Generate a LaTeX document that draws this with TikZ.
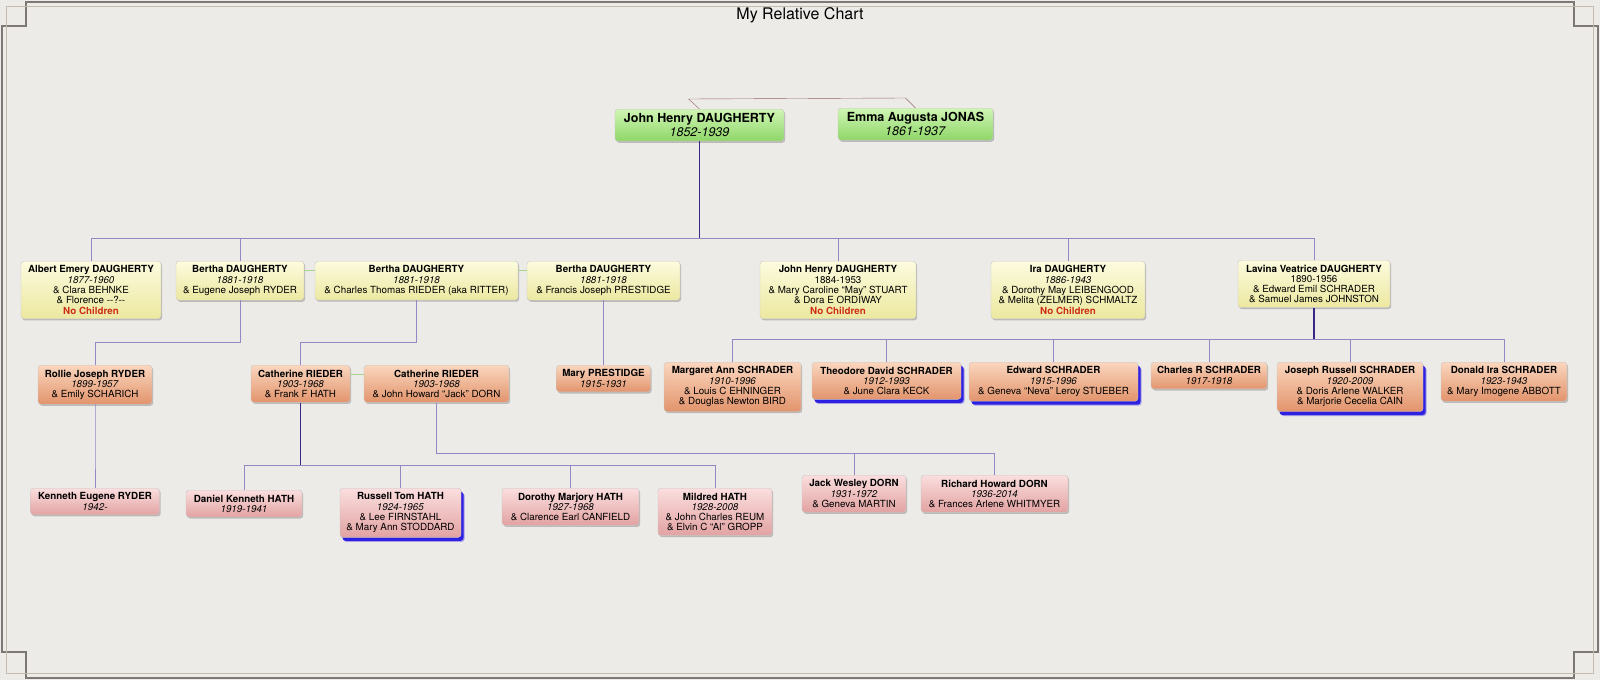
\documentclass[tikz,border=0pt]{standalone}
\usepackage{fontspec}
\setmainfont{TeX Gyre Heros}
\usepackage{xcolor}
\usepackage{tikz}
\usetikzlibrary{positioning,calc,shadows}
\definecolor{fond}{RGB}{237,235,232}
\definecolor{cadre}{RGB}{125,120,115}
\definecolor{cadreclair}{RGB}{196,188,172}
\definecolor{lien}{RGB}{150,134,196}
\definecolor{liensombre}{RGB}{58,38,132}
\definecolor{conjoint}{RGB}{145,100,100}
\definecolor{vertlien}{RGB}{165,212,140}
\definecolor{rouge}{RGB}{205,45,20}
\definecolor{bleuvif}{RGB}{35,20,225}
\definecolor{vertH}{RGB}{208,246,180}
\definecolor{vertB}{RGB}{142,214,104}
\definecolor{jauneH}{RGB}{252,251,222}
\definecolor{jauneB}{RGB}{236,232,160}
\definecolor{orangeH}{RGB}{250,214,190}
\definecolor{orangeB}{RGB}{226,148,108}
\definecolor{roseH}{RGB}{251,222,222}
\definecolor{roseB}{RGB}{226,162,162}
\newcommand{\enfants}[3]{%
  \foreach \kid in {#3}{\draw[filiation] (#1.south) -- (#1.south |- 0,#2) -| (\kid.north);}}
\newcommand{\sansenfant}{\textcolor{rouge}{\textbf{No Children}}}

\begin{document}
\begin{tikzpicture}[x=1pt,y=-1pt,
    fiche/.style={draw=black!22,rounded corners=3pt,align=center,anchor=north,
      inner xsep=2pt,inner ysep=4.5pt,font=\fontsize{9.8}{10.3}\selectfont,
      drop shadow={shadow xshift=1.2pt,shadow yshift=-1.6pt,opacity=0.3,fill=black!70}},
    aieul/.style={fiche,top color=vertH,bottom color=vertB,font=\fontsize{12.5}{13.5}\selectfont},
    enfant/.style={fiche,top color=jauneH,bottom color=jauneB},
    petit/.style={fiche,top color=orangeH,bottom color=orangeB},
    arriere/.style={fiche,top color=roseH,bottom color=roseB},
    choisi/.style={drop shadow={shadow xshift=3.5pt,shadow yshift=-4.5pt,opacity=0.35,fill=bleuvif},
      drop shadow={shadow xshift=2.5pt,shadow yshift=-3.5pt,opacity=0.9,fill=bleuvif}},
    filiation/.style={draw=lien,line width=0.95pt},
    sang/.style={draw=liensombre,line width=1.7pt},
    remariage/.style={draw=vertlien,line width=1pt}]
  \path[use as bounding box,fill=fond] (0,0) rectangle (1600,680);
  \draw[cadre,line width=1.2pt] (26,2) -- (1574,2) -- (1574,26) -- (1598,26) -- (1598,652) -- (1574,652)
    -- (1574,678) -- (26,678) -- (26,652) -- (2,652) -- (2,26) -- (26,26) -- cycle;
  \draw[cadreclair,line width=1.2pt] (6.5,6.5) rectangle (1593.5,673.5);
  \node[font=\fontsize{16}{18}\selectfont] (titre) at (800,15.5) {My Relative Chart};
  % parents
  \node[aieul,minimum width=169] (john) at (699.5,109) {\textbf{John Henry DAUGHERTY}\\\textit{1852-1939}};
  \node[aieul,minimum width=155] (emma) at (915.5,108) {\textbf{Emma Augusta JONAS}\\\textit{1861-1937}};
  % enfants
  \node[enfant,minimum width=140] (albert) at (91,261) {\textbf{Albert Emery DAUGHERTY}\\\textit{1877-1960}\\\& Clara BEHNKE\\\& Florence {-}{-}?{-}{-}\\\sansenfant};
  \node[enfant,minimum width=128] (berthaA) at (240,261) {\textbf{Bertha DAUGHERTY}\\\textit{1881-1918}\\\& Eugene Joseph RYDER};
  \node[enfant,minimum width=203] (berthaB) at (416.5,261) {\textbf{Bertha DAUGHERTY}\\\textit{1881-1918}\\\& Charles Thomas RIEDER (aka RITTER)};
  \node[enfant,minimum width=153] (berthaC) at (603.5,261) {\textbf{Bertha DAUGHERTY}\\\textit{1881-1918}\\\& Francis Joseph PRESTIDGE};
  \node[enfant,minimum width=156] (johnjr) at (838,261) {\textbf{John Henry DAUGHERTY}\\1884-1953\\\& Mary Caroline ``May'' STUART\\\& Dora E ORDIWAY\\\sansenfant};
  \node[enfant,minimum width=154] (ira) at (1068,261) {\textbf{Ira DAUGHERTY}\\\textit{1886-1943}\\\& Dorothy May LEIBENGOOD\\\& Melita (ZELMER) SCHMALTZ\\\sansenfant};
  \node[enfant,minimum width=152] (lavina) at (1314,260) {\textbf{Lavina Veatrice DAUGHERTY}\\1890-1956\\\& Edward Emil SCHRADER\\\& Samuel James JOHNSTON};
  % petits-enfants
  \node[petit,minimum width=114] (rollie) at (95,365) {\textbf{Rollie Joseph RYDER}\\\textit{1899-1957}\\\& Emily SCHARICH};
  \node[petit,minimum width=99] (cathA) at (300.5,365) {\textbf{Catherine RIEDER}\\\textit{1903-1968}\\\& Frank F HATH};
  \node[petit,minimum width=145] (cathB) at (436.5,365) {\textbf{Catherine RIEDER}\\\textit{1903-1968}\\\& John Howard ``Jack'' DORN};
  \node[petit,minimum width=94] (mary) at (603.5,365) {\textbf{Mary PRESTIDGE}\\\textit{1915-1931}};
  \node[petit,minimum width=137] (margaret) at (732.5,362) {\textbf{Margaret Ann SCHRADER}\\\textit{1910-1996}\\\& Louis C EHNINGER\\\& Douglas Newton BIRD};
  \node[petit,choisi,minimum width=149] (theodore) at (886.5,362) {\textbf{Theodore David SCHRADER}\\\textit{1912-1993}\\\& June Clara KECK};
  \node[petit,choisi,minimum width=169] (edward) at (1053.5,362) {\textbf{Edward SCHRADER}\\\textit{1915-1996}\\\& Geneva ``Neva'' Leroy STUEBER};
  \node[petit,minimum width=116] (charles) at (1209,362) {\textbf{Charles R SCHRADER}\\\textit{1917-1918}};
  \node[petit,choisi,minimum width=146] (joseph) at (1350,362) {\textbf{Joseph Russell SCHRADER}\\\textit{1920-2009}\\\& Doris Arlene WALKER\\\& Marjorie Cecelia CAIN};
  \node[petit,minimum width=126] (donald) at (1504,362) {\textbf{Donald Ira SCHRADER}\\\textit{1923-1943}\\\& Mary Imogene ABBOTT};
  % arriere-petits-enfants
  \node[arriere,minimum width=129] (kenneth) at (95,488) {\textbf{Kenneth Eugene RYDER}\\\textit{1942-}};
  \node[arriere,minimum width=116] (daniel) at (244,490) {\textbf{Daniel Kenneth HATH}\\\textit{1919-1941}};
  \node[arriere,choisi,minimum width=121] (russell) at (400.5,488) {\textbf{Russell Tom HATH}\\\textit{1924-1965}\\\& Lee FIRNSTAHL\\\& Mary Ann STODDARD};
  \node[arriere,minimum width=137] (dorothy) at (570.5,488) {\textbf{Dorothy Marjory HATH}\\\textit{1927-1968}\\\& Clarence Earl CANFIELD};
  \node[arriere,minimum width=114] (mildred) at (715,488) {\textbf{Mildred HATH}\\\textit{1928-2008}\\\& John Charles REUM\\\& Elvin C ``Al'' GROPP};
  \node[arriere,minimum width=104] (jack) at (854,475) {\textbf{Jack Wesley DORN}\\\textit{1931-1972}\\\& Geneva MARTIN};
  \node[arriere,minimum width=147] (richard) at (994.5,475) {\textbf{Richard Howard DORN}\\\textit{1936-2014}\\\& Frances Arlene WHITMYER};
  % liens
  \draw[conjoint] (john.north) -- ++(-11,-10) -- ($(emma.north)+(-10,-10)$) -- (emma.north);
  \draw[remariage] ([yshift=-9pt]berthaA.north east) -- ([yshift=-9pt]berthaB.north west);
  \draw[remariage] ([yshift=-9pt]berthaB.north east) -- ([yshift=-9pt]berthaC.north west);
  \draw[remariage] ([yshift=-9pt]cathA.north east) -- ([yshift=-9pt]cathB.north west);
  \enfants{john}{238}{albert,berthaA,johnjr,ira,lavina}
  \enfants{berthaA}{342}{rollie}
  \enfants{berthaB}{342}{cathA}
  \enfants{berthaC}{330}{mary}
  \enfants{lavina}{339}{margaret,theodore,edward,charles,joseph,donald}
  \enfants{rollie}{450}{kenneth}
  \enfants{cathA}{465}{daniel,russell,dorothy,mildred}
  \enfants{cathB}{453}{jack,richard}
  \draw[sang] (john.south) -- (john.south |- 0,238);
  \draw[sang] (lavina.south) -- (lavina.south |- 0,339);
  \draw[sang] (cathA.south) -- (cathA.south |- 0,465);
\end{tikzpicture}
\end{document}
